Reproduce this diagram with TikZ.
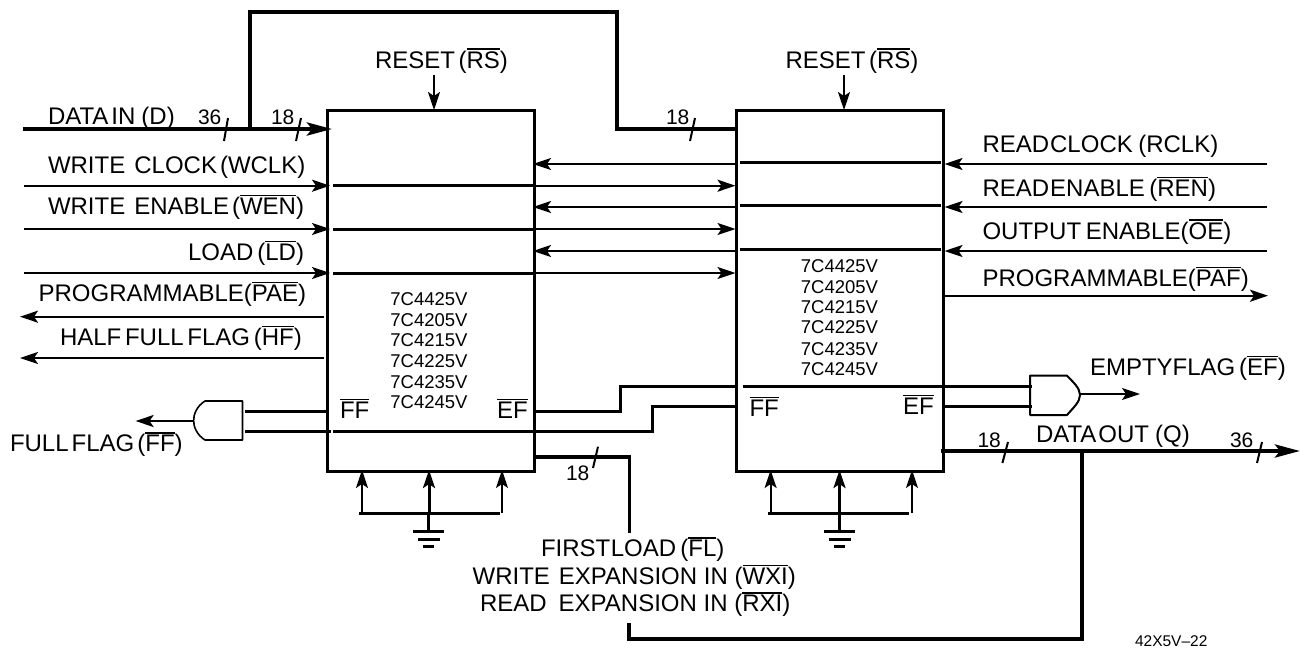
\documentclass[tikz,border=0pt]{standalone}
\usepackage{fontspec}
\setmainfont{Liberation Sans}
\usetikzlibrary{arrows.meta}
\newcommand\ob[1]{\leavevmode\vbox{\hrule height 1.3pt \kern 1.6pt\hbox{#1}}}
\newcommand\sfs{\fontsize{18.5}{22}\selectfont}
\newcommand\gp[1]{\hspace{#1pt}}
\tikzset{
  x=1pt,y=-1pt,
  every node/.style={inner sep=0,outer sep=0,font=\fontsize{24}{28}\selectfont},
  lab/.style={anchor=base west},
  num/.style={anchor=base west,font=\fontsize{21}{25}\selectfont},
  chip/.style={anchor=base,font=\sfs},
  box/.style={draw,line width=3pt,minimum width=207pt,minimum height=361pt},
  gatebox/.style={minimum width=49pt,minimum height=39pt},
  thinw/.style={line width=2pt},
  midw/.style={line width=3pt},
  busw/.style={line width=4pt,line join=miter},
  tk/.style={line width=2pt},
  gateline/.style={line width=1.6pt,line join=round},
  arr/.style={-{Stealth[length=18pt,width=12pt,inset=4pt]}},
  bigarr/.style={-{Stealth[length=25pt,width=13pt,inset=5pt]}},
}
\begin{document}
\begin{tikzpicture}
\useasboundingbox (0,0) rectangle (1300,648);
% chips
\node[box] (u1) at (430.5,290.5) {};
\node[box] (u2) at (840,290.5) {};
% free ends
\coordinate (dinL) at (23,129);
\coordinate (wclkL) at (24,185.7);
\coordinate (wenL) at (24,229);
\coordinate (ldL) at (24,273);
\coordinate (paeL) at (20,316.7);
\coordinate (hfL) at (20,358);
\coordinate (rclkR) at (1267,164);
\coordinate (renR) at (1267,207);
\coordinate (oeR) at (1267,251);
\coordinate (pafR) at (1268,295.7);
\coordinate (branch) at (250,129);
\coordinate (topL) at (250,12);
\coordinate (topR) at (616.5,12);
\coordinate (u2in) at (616.5,129);
\coordinate (rs1) at (434,75);
\coordinate (rs2) at (844,75);
% bus
\draw[busw] (dinL) -- (branch);
\draw[busw,bigarr] (branch) -- (332,129);
\draw[busw] (branch) -- (topL) -- (topR) -- (u2in) -- (u2in -| u2.west);
% reset
\draw[thinw,arr] (rs1) -- (rs1 |- u1.north);
\draw[thinw,arr] (rs2) -- (rs2 |- u2.north);
% left inputs
\foreach \c in {wclkL,wenL,ldL}{
  \draw[thinw,arr] (\c) -- ([xshift=3pt]\c -| u1.west);
  \draw[midw] ([xshift=6pt]\c -| u1.west) -- (\c -| u1.east);
  \draw[thinw,arr] (\c -| u1.east) -- ([xshift=-1pt]\c -| u2.west);
}
% right inputs
\foreach \c in {rclkR,renR,oeR}{
  \draw[thinw,arr] (\c) -- ([xshift=1pt]\c -| u2.east);
  \draw[midw] ([xshift=3pt,yshift=1.5pt]\c -| u2.west) -- ([xshift=-3pt,yshift=1.5pt]\c -| u2.east);
  \draw[thinw,arr] (\c -| u2.west) -- ([xshift=-1pt]\c -| u1.east);
}
% outputs
\draw[thinw,arr] (paeL -| u1.west) ++(-3,0) -- (paeL);
\draw[thinw,arr] (hfL -| u1.west) ++(-3,0) -- (hfL);
\draw[thinw,arr] ([xshift=-1pt]pafR -| u2.east) -- (pafR);
% left gate
\node[gatebox] (gf) at (218,420.5) {};
\draw[gateline] (242.5,401) -- (205,401) .. controls (197,406) and (193.6,414) .. (193.6,420.5) .. controls (193.6,427) and (197,435) .. (205,440) -- (242.5,440) -- cycle;
\coordinate (ffout) at (135.6,421);
\draw[thinw,arr] (gf.west |- ffout) -- (ffout);
\coordinate (gfa) at (245,411);
\coordinate (gfb) at (245,431);
\draw[midw] (gfa) -- (gfa -| u1.west);
\draw[midw] (gfb) -- ([xshift=4pt]gfb -| u1.west);
\draw[midw] ([xshift=6pt]gfb -| u1.west) -- (652,431) -- (652,406.7) -- (652,406.7 -| u2.west);
% right gate
\node[gatebox,minimum width=50pt] (ge) at (1055,395.4) {};
\draw[gateline,line width=2pt] (1030,375.7) -- (1067,375.7) .. controls (1073,382) and (1080,388) .. (1080,395) .. controls (1080,402) and (1073,408) .. (1067,415) -- (1030,415) -- cycle;
\coordinate (efout) at (1140,394);
\draw[thinw,arr] (ge.east |- efout) -- (efout);
\coordinate (gea) at (1032,386);
\coordinate (geb) at (1032,406.7);
\draw[midw] (u1.east |- gfa) -- (620,411) -- (620,386) -- (620,386 -| u2.west);
\draw[midw] ([xshift=6pt]gea -| u2.west) -- (gea);
\draw[midw] (geb -| u2.east) -- (geb);
% data out
\coordinate (qout) at (1300,451);
\coordinate (qdrop) at (1082,451);
\draw[busw,bigarr] ([xshift=-3pt]qout -| u2.east) -- (qout);
\draw[busw] (qdrop) -- (1082,639) -- (629.4,639) -- (629.4,622.7);
\coordinate (fbtop) at (629.4,533);
\draw[midw,line width=3.6pt] (u1.east |- 0,456.7) -- (629.4,456.7) -- (fbtop);
% grounds
\foreach \u/\xa/\xb/\xc/\ha/\hb/\gx in {u1/362/429/502/359/500/428.5,u2/770.6/839.5/912/768/909/839.5}{
  \draw[line width=2pt,arr] (\xa,513) -- (\xa,470);
  \draw[line width=3pt,arr] (\xb,513) -- (\xb,470);
  \draw[line width=1.5pt,arr] (\xc,513) -- (\xc,470);
  \draw[midw] (\ha,513) -- (\hb,513);
  \draw[midw] (\gx,513) -- (\gx,531);
  \draw[midw] (\gx-15.5,531) -- (\gx+15.5,531);
  \draw[midw] (\gx-11,539) -- (\gx+11,539);
  \draw[midw] (\gx-5.5,546.7) -- (\gx+5.5,546.7);
}
% ticks
\draw[tk] (228,118) -- (224,141);
\draw[tk] (301,118) -- (296,141);
\draw[tk] (695,118) -- (690,141);
\draw[tk] (598,446.7) -- (593,468);
\draw[tk] (1008,442) -- (1002.4,463);
\draw[tk] (1262,442) -- (1257,463);
% labels
\node[num] (n36a) at (198,124) {36};
\node[num] (n18a) at (271,124) {18};
\node[num] (n18b) at (666,124) {18};
\node[num] (n18c) at (566,480) {18};
\node[num] (n18d) at (977.5,447) {18};
\node[num] (n36b) at (1230,447) {36};
\node[lab] (tdin) at (48,124) {DATA\gp{3}IN\gp{6}(D)};
\node[lab] (trs1) at (375,68) {RESET\gp{3.5}(\ob{RS})};
\node[lab] (trs2) at (785.6,68) {RESET\gp{3.5}(\ob{RS})};
\node[lab] (twclk) at (48,173) {WRITE\gp{9}CLOCK\gp{3}(WCLK)};
\node[lab] (twen) at (48,214) {WRITE\gp{9}ENABLE\gp{3}(\ob{WEN})};
\node[lab] (tld) at (188,260) {LOAD\gp{4}(\ob{LD})};
\node[lab] (tpae) at (38.6,301) {PROGRAMMABLE(\ob{PAE})};
\node[lab] (thf) at (60,345) {HALF\gp{3.7}FULL\gp{3.7}FLAG\gp{3.7}(\ob{HF})};
\node[lab] (tff) at (10,451.7) {FULL\gp{3}FLAG\gp{3}(\ob{FF})};
\node[lab] (trclk) at (982.5,152.7) {READ\gp{1}CLOCK\gp{5.5}(RCLK)};
\node[lab] (tren) at (982.5,196) {READ\gp{1}ENABLE\gp{4.5}(\ob{REN})};
\node[lab] (toe) at (982.5,239) {OUTPUT\gp{4.7}ENABLE(\ob{OE})};
\node[lab] (tpaf) at (982.5,286) {PROGRAMMABLE(\ob{PAF})};
\node[lab] (tef) at (1090,375) {EMPTY\gp{0}FLAG\gp{3.8}(\ob{EF})};
\node[lab] (tq) at (1036,442) {DATA\gp{2}OUT\gp{6}(Q)};
\node[lab] (tfl) at (541,556.7) {FIRST\gp{0.5}LOAD\gp{4.3}(\ob{FL})};
\node[lab] (twxi) at (472.6,584) {WRITE\gp{9}EXPANSION IN (\ob{WXI})};
\node[lab] (trxi) at (480,611.7) {READ\gp{12}EXPANSION IN (\ob{RXI})};
\node[lab] (ff1) at (340,418) {\ob{FF}};
\node[lab] (ef1) at (497,418) {\ob{EF}};
\node[lab] (ff2) at (749.5,416) {\ob{FF}};
\node[lab] (ef2) at (903,414) {\ob{EF}};
\foreach \n/\t/\y in {a/4425/305,b/4205/326,c/4215/346,d/4225/367,e/4235/388,f/4245/408}
  \node[chip] (c1\n) at (429,\y) {7C\t V};
\foreach \n/\t/\y in {a/4425/272,b/4205/293,c/4215/313,d/4225/333,e/4235/355,f/4245/375}
  \node[chip] (c2\n) at (839.5,\y) {7C\t V};
\node[anchor=base west,font=\fontsize{15.5}{18}\selectfont] (fig) at (1135,646) {42X5V–22};
\end{tikzpicture}
\end{document}
